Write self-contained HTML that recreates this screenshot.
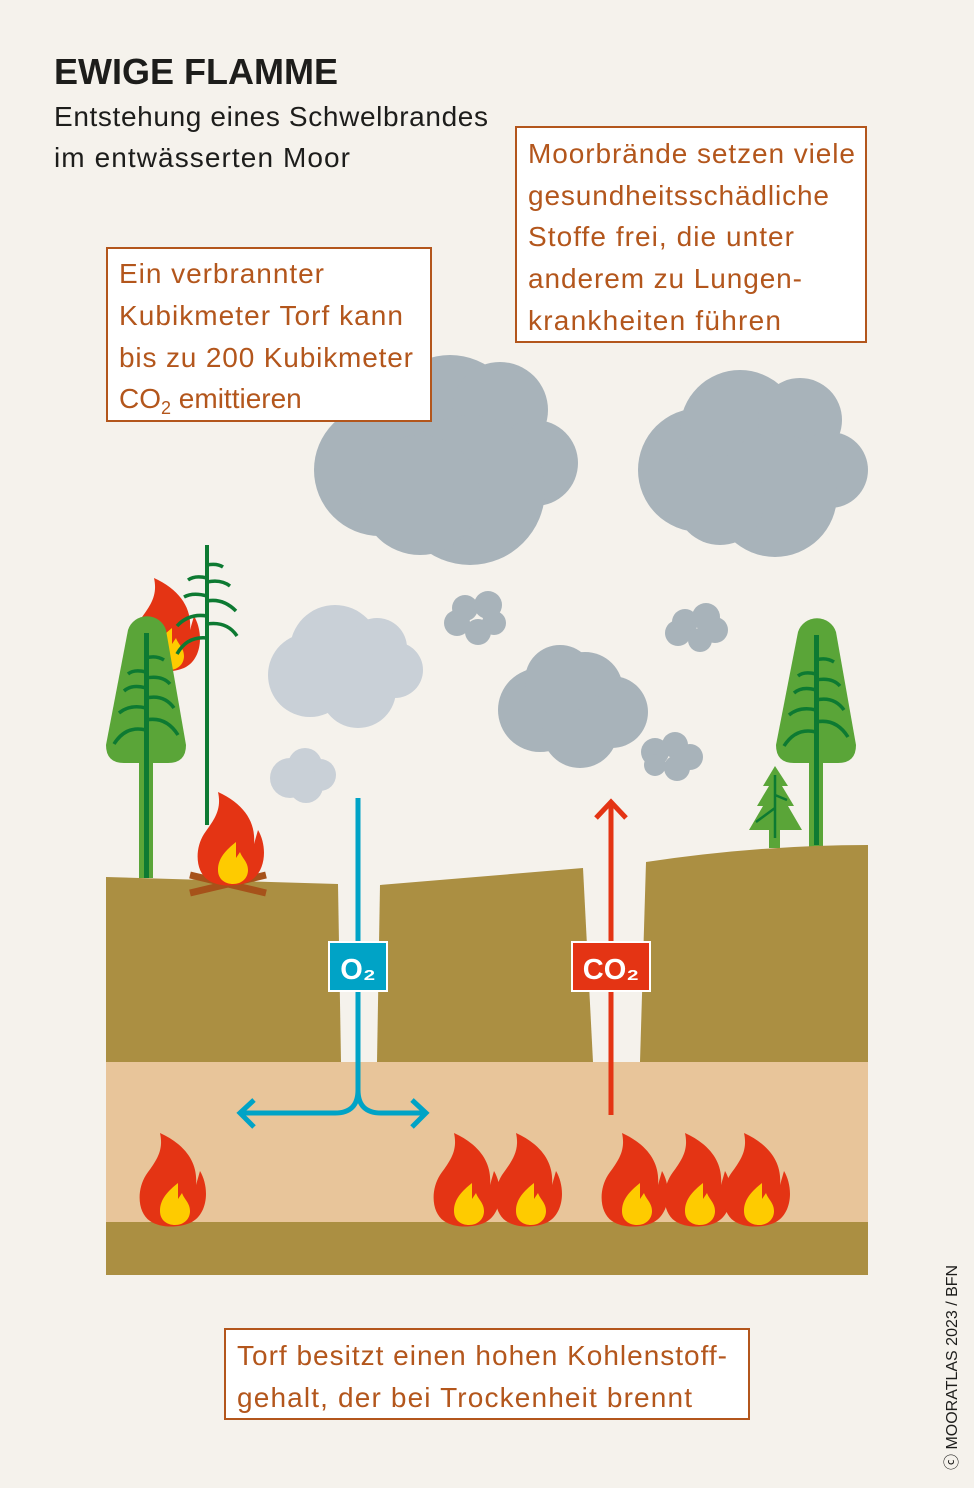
<!DOCTYPE html>
<html><head><meta charset="utf-8"><style>
html,body{margin:0;padding:0;background:#f5f2ec}
svg{display:block}
.t{font-family:"Liberation Sans",sans-serif}
</style></head><body>
<svg width="974" height="1488" viewBox="0 0 974 1488" xmlns="http://www.w3.org/2000/svg">
<defs>
<g id="fl">
<path d="M22,0 C48,12 60,30 58,52 L62,38 C72,55 70,82 52,90 C40,95 22,95 12,88 C0,80 -2,58 8,42 C18,28 26,18 22,0 Z" fill="#e43414"/>
<path d="M40,50 C30,58 22,66 22,78 C22,88 30,92 37,92 C46,92 52,86 52,78 C52,70 46,66 44,60 L40,66 Z" fill="#fecb00"/>
</g>
<g id="br" fill="none" stroke="#0d7a32" stroke-width="3.5">
<path d="M0,-18 Q-12,-21 -18,-16 M0,-2 Q-14,-6 -22,1 M0,18 Q-16,14 -27,23 M0,40 Q-20,35 -32,54"/>
<path d="M0,-32 Q10,-35 18,-30 M0,-12 Q16,-15 24,-6 M0,8 Q18,4 28,18 M0,30 Q20,26 32,45"/>
</g>
<g id="br2" fill="none" stroke="#0d7a32" stroke-width="3.5">
<path d="M0,-33 Q10,-35 16,-31 M0,-20 Q-12,-23 -19,-18 M0,-16 Q14,-19 23,-12 M0,-2 Q-14,-6 -23,-1 M0,3 Q16,0 29,13 M0,18 Q-18,15 -30,28 M0,26 Q20,23 30,38 M0,40 Q-20,38 -30,56"/>
</g>
</defs>
<rect width="974" height="1488" fill="#f5f2ec"/>
<text class="t" x="54" y="84" font-size="36" font-weight="bold" fill="#1d1d1b">EWIGE FLAMME</text>
<text class="t" x="54" y="126" font-size="28" fill="#1d1d1b" textLength="434">Entstehung eines Schwelbrandes</text>
<text class="t" x="54" y="167" font-size="28" fill="#1d1d1b" textLength="296">im entwässerten Moor</text>

<g fill="#a8b3ba">
<circle cx="380" cy="470" r="66"/><circle cx="450" cy="425" r="70"/><circle cx="500" cy="410" r="48"/><circle cx="535" cy="463" r="43"/><circle cx="470" cy="490" r="75"/><circle cx="420" cy="495" r="60"/>
<circle cx="700" cy="470" r="62"/><circle cx="740" cy="430" r="60"/><circle cx="800" cy="420" r="42"/><circle cx="830" cy="470" r="38"/><circle cx="775" cy="495" r="62"/><circle cx="720" cy="500" r="45"/>
<circle cx="540" cy="710" r="42"/><circle cx="585" cy="690" r="38"/><circle cx="612" cy="712" r="36"/><circle cx="580" cy="730" r="38"/><circle cx="560" cy="680" r="35"/>
<circle cx="465" cy="608" r="13"/><circle cx="488" cy="605" r="14"/><circle cx="494" cy="623" r="12"/><circle cx="478" cy="632" r="13"/><circle cx="457" cy="623" r="13"/>
<circle cx="685" cy="622" r="13"/><circle cx="706" cy="617" r="14"/><circle cx="715" cy="630" r="13"/><circle cx="700" cy="640" r="12"/><circle cx="678" cy="633" r="13"/>
<circle cx="655" cy="752" r="14"/><circle cx="675" cy="745" r="13"/><circle cx="690" cy="757" r="13"/><circle cx="677" cy="768" r="13"/><circle cx="655" cy="765" r="11"/>
</g>
<g fill="#c9d0d7">
<circle cx="310" cy="675" r="42"/><circle cx="335" cy="650" r="45"/><circle cx="377" cy="648" r="30"/><circle cx="395" cy="670" r="28"/><circle cx="358" cy="690" r="38"/>
<circle cx="290" cy="778" r="20"/><circle cx="305" cy="765" r="17"/><circle cx="320" cy="775" r="16"/><circle cx="306" cy="786" r="17"/>
</g>

<!-- trees -->
<use href="#fl" x="132" y="578"/>
<path d="M128,630 A20,20 0 0 1 166,630 L186,745 Q186,763 168,763 L124,763 Q106,763 106,745 Z" fill="#5aa538"/>
<rect x="139" y="760" width="14" height="118" fill="#5aa538"/>
<rect x="144" y="633" width="5" height="245" fill="#0d7a32"/>
<use href="#br" x="146" y="690"/>
<rect x="205" y="545" width="4" height="280" fill="#0d7a32"/>
<use href="#br2" x="207" y="598"/>
<path d="M798,632 A20,20 0 0 1 836,632 L856,745 Q856,763 838,763 L794,763 Q776,763 776,745 Z" fill="#5aa538"/>
<rect x="809" y="760" width="14" height="88" fill="#5aa538"/>
<rect x="814" y="635" width="5" height="210" fill="#0d7a32"/>
<use href="#br" x="816" y="692"/>
<path d="M775,766 L788,786 L782,786 L794,806 L788,806 L802,830 L749,830 L763,806 L757,806 L769,786 L763,786 Z" fill="#5aa538"/>
<rect x="769" y="828" width="11" height="20" fill="#5aa538"/>
<path d="M775,775 L775,838 M775,808 L756,822 M775,795 L787,800" stroke="#0d7a32" stroke-width="2.5" fill="none"/>

<!-- ground -->
<path d="M106,877 L338,884 L341,1062 L106,1062 Z" fill="#ab8f42"/>
<path d="M380,885 L583,868 L593,1062 L377,1062 Z" fill="#ab8f42"/>
<path d="M646,862 Q760,845 868,845 L868,1062 L640,1062 Z" fill="#ab8f42"/>
<rect x="106" y="1062" width="762" height="161" fill="#e8c59a"/>
<rect x="106" y="1222" width="762" height="53" fill="#ab8f42"/>

<path d="M190,875 L266,893 M190,893 L266,875" stroke="#a6521a" stroke-width="7"/>
<use href="#fl" x="196" y="792"/>

<path d="M358,798 L358,1090 Q358,1113 335,1113 L240,1113 M358,1090 Q358,1113 381,1113 L426,1113 M254,1100 L240,1113 L254,1127 M412,1100 L426,1113 L412,1127" stroke="#00a3c6" stroke-width="5" fill="none"/>
<rect x="329" y="942" width="58" height="49" fill="#00a3c6" stroke="#fff" stroke-width="2"/>
<text class="t" x="358" y="979" font-size="29" font-weight="bold" fill="#fff" text-anchor="middle">O₂</text>
<path d="M611,1115 L611,802 M596,818 L611,802 L626,818" stroke="#e43414" stroke-width="5" fill="none"/>
<rect x="572" y="942" width="78" height="49" fill="#e43414" stroke="#fff" stroke-width="2"/>
<text class="t" x="611" y="979" font-size="29" font-weight="bold" fill="#fff" text-anchor="middle">CO₂</text>

<use href="#fl" x="138" y="1133"/>
<use href="#fl" x="432" y="1133"/>
<use href="#fl" x="494" y="1133"/>
<use href="#fl" x="600" y="1133"/>
<use href="#fl" x="663" y="1133"/>
<use href="#fl" x="722" y="1133"/>

<g class="t" font-size="28" fill="#b3561c">
<rect x="107" y="248" width="324" height="173" fill="#fff" stroke="#b3561c" stroke-width="2"/>
<text x="119" y="283" textLength="205">Ein verbrannter</text>
<text x="119" y="325" textLength="284">Kubikmeter Torf kann</text>
<text x="119" y="367" textLength="294">bis zu 200 Kubikmeter</text>
<text x="119" y="408">CO<tspan font-size="18" dy="6">2</tspan><tspan dy="-6"> emittieren</tspan></text>
<rect x="516" y="127" width="350" height="215" fill="#fff" stroke="#b3561c" stroke-width="2"/>
<text x="528" y="163" textLength="327">Moorbrände setzen viele</text>
<text x="528" y="205" textLength="301">gesundheitsschädliche</text>
<text x="528" y="246" textLength="266">Stoffe frei, die unter</text>
<text x="528" y="288" textLength="274">anderem zu Lungen-</text>
<text x="528" y="330" textLength="253">krankheiten führen</text>
<rect x="225" y="1329" width="524" height="90" fill="#fff" stroke="#b3561c" stroke-width="2"/>
<text x="237" y="1365" textLength="490">Torf besitzt einen hohen Kohlenstoff-</text>
<text x="237" y="1407" textLength="455">gehalt, der bei Trockenheit brennt</text>
</g>
<text class="t" x="957" y="1470" font-size="16" fill="#1d1d1b" transform="rotate(-90 957 1470)">ⓒ MOORATLAS 2023 / BFN</text>
</svg>
</body></html>
